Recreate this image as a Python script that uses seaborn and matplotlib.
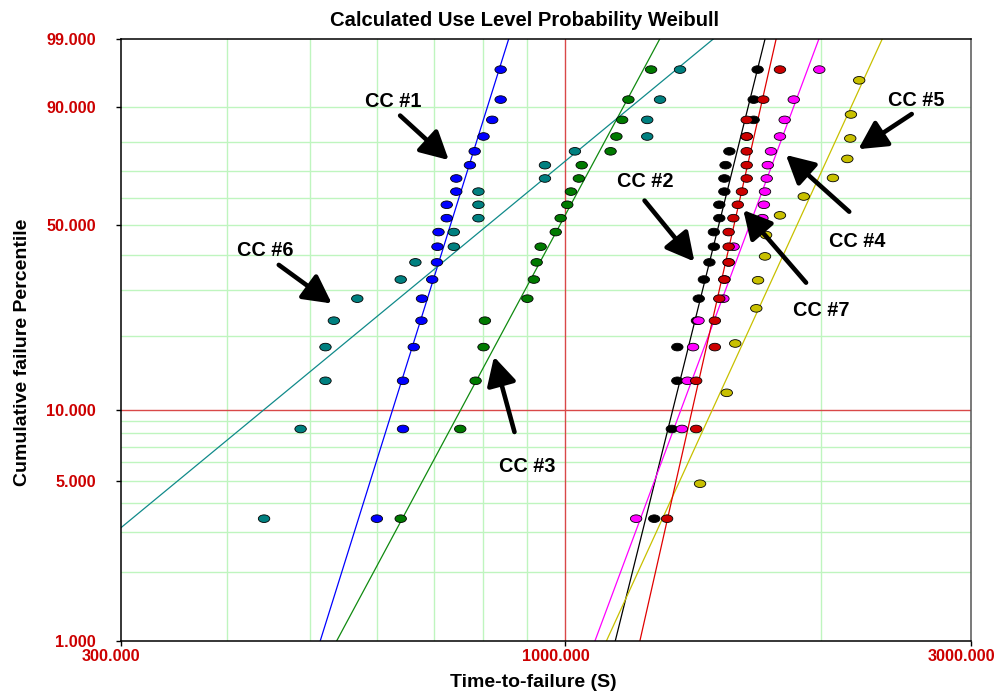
import numpy as np
import pandas as pd
import matplotlib
matplotlib.use("Agg")
import matplotlib.pyplot as plt
import matplotlib.path as mpath
import matplotlib.transforms as mtransforms
import seaborn as sns

# median ranks (%): 20 failures for most groups, 14 for CC #5
ranks_20 = [3.43, 8.33, 13.24, 18.14, 23.04, 27.94, 32.84, 37.75, 42.65, 47.55,
            52.45, 57.35, 62.25, 67.16, 72.06, 76.96, 81.86, 86.76, 91.67, 96.57]
ranks_14 = [4.86, 11.81, 18.75, 25.69, 32.64, 39.58, 46.53, 53.47, 60.42, 67.36,
            74.31, 81.25, 88.19, 95.14]

# time-to-failure (S) per group
cc1 = [600, 644, 644, 663, 677, 678, 697, 706, 707, 709,
       725, 725, 744, 744, 772, 782, 801, 820, 839, 839]
cc2 = [1272, 1334, 1354, 1354, 1428, 1435, 1455, 1477, 1495, 1495,
       1517, 1517, 1538, 1538, 1543, 1559, 1634, 1665, 1665, 1683]
cc3 = [640, 752, 784, 801, 804, 902, 918, 925, 935, 974,
       987, 1005, 1015, 1037, 1045, 1130, 1148, 1166, 1186, 1261]
cc4 = [1211, 1371, 1392, 1413, 1434, 1534, 1538, 1556, 1577, 1682,
       1705, 1712, 1717, 1725, 1730, 1745, 1788, 1811, 1856, 1989]
cc5 = [1440, 1548, 1584, 1677, 1685, 1717, 1722, 1788, 1907, 2064,
       2146, 2163, 2167, 2216]
cc6 = [442, 488, 522, 522, 534, 569, 640, 666, 739, 739,
       790, 790, 790, 946, 946, 1026, 1248, 1248, 1292, 1364]
cc7 = [1317, 1425, 1425, 1499, 1499, 1517, 1538, 1556, 1556, 1556,
       1576, 1595, 1613, 1634, 1634, 1634, 1634, 1634, 1709, 1788]

groups = ["CC #1", "CC #2", "CC #3", "CC #4", "CC #5", "CC #6", "CC #7"]
times = [cc1, cc2, cc3, cc4, cc5, cc6, cc7]
ranks = [ranks_20, ranks_20, ranks_20, ranks_20, ranks_14, ranks_20, ranks_20]

# fitted weibull lines (shape, scale)
beta = [12.0, 15.1, 7.0, 10.1, 8.2, 3.1, 16.6]
eta = [755, 1552, 1038, 1708, 1958, 912, 1614]

colors = ["#0000FF", "#000000", "#007A00", "#FF00FF", "#C8C000", "#008080", "#CC0000"]
line_colors = ["#0000FF", "#000000", "#108A10", "#FF00FF", "#C8C000", "#108A8A", "#E00000"]

# annotation text centre, arrow tail, arrow tip  (time, percent)
label_pos = [(627, 91.2), (1240, 66.2), (901, 5.79), (2203, 44.5), (2583, 91.5), (444, 41.4), (2000, 25.1)]
arrow_tail = [(639, 87.9), (1239, 58.9), (871, 8.09), (2157, 54.8), (2555, 88.3), (460, 37.0), (1919, 32.0)]
arrow_tip = [(729, 73.9), (1418, 38.0), (824, 16.6), (1817, 75.7), (2211, 77.7), (531, 26.8), (1619, 55.4)]

x_grid = [400, 500, 600, 700, 800, 900, 2000]
y_grid = [2, 3, 4, 5, 6, 7, 8, 9, 20, 30, 40, 50, 60, 70, 80, 90]

rows = []
for g, t, r in zip(groups, times, ranks):
    for ti, ri in zip(t, r):
        rows.append((g, ti, ri))
df = pd.DataFrame(rows, columns=["group", "time", "pct"])


def fwd(p):
    p = np.clip(np.asarray(p, dtype=float), 1e-6, 100 - 1e-6)
    return np.log(-np.log1p(-p / 100.0))


def inv(z):
    return -100.0 * np.expm1(-np.exp(np.asarray(z, dtype=float)))


sns.set_theme(style="white")
plt.rcParams["font.family"] = ["Liberation Sans", "DejaVu Sans"]

fig = plt.figure(figsize=(9.98, 6.96), dpi=100)
ax = fig.add_axes([121 / 998, 1 - 641 / 696, 850 / 998, 602 / 696])
ax.set_xscale("log")
ax.set_yscale("function", functions=(fwd, inv))
ax.set_xlim(300, 3000)
ax.set_ylim(1, 99)

for xv in x_grid:
    ax.axvline(xv, color="#BFF5BF", lw=1.0, zorder=0)
for yv in y_grid:
    ax.axhline(yv, color="#BFF5BF", lw=1.0, zorder=0)
ax.axvline(1000, color="#D94848", lw=1.0, zorder=0.5)
ax.axhline(10, color="#D94848", lw=1.0, zorder=0.5)

# fitted lines
F = np.array([0.2, 1.0, 5.0, 20.0, 50.0, 80.0, 95.0, 99.0, 99.9])
for b, e, c in zip(beta, eta, line_colors):
    t_line = e * (-np.log1p(-F / 100.0)) ** (1.0 / b)
    ax.plot(t_line, F, color=c, lw=0.9, zorder=2)

circle = mpath.Path.unit_circle()
ellipse = mpath.Path(circle.vertices * np.array([1.5, 1.0]), circle.codes)

sns.scatterplot(data=df, x="time", y="pct", hue="group", hue_order=groups,
                palette=dict(zip(groups, colors)), marker=ellipse, s=68,
                edgecolor="black", linewidth=0.6, legend=False, ax=ax, zorder=3)

for g, lp, tail, tip in zip(groups, label_pos, arrow_tail, arrow_tip):
    ax.annotate("", xy=tip, xytext=tail,
                arrowprops=dict(arrowstyle="-|>,head_length=0.85,head_width=0.45",
                                color="black", lw=3.3, mutation_scale=20,
                                shrinkA=0, shrinkB=0), zorder=4)
    ax.text(lp[0], lp[1], g, ha="center", va="center", fontsize=14.3,
            fontweight="bold", color="black", zorder=5)

ax.set_xticks([300, 1000, 3000])
ax.set_xticklabels(["300.000", "1000.000", "3000.000"])
ax.set_yticks([1, 5, 10, 50, 90, 99])
ax.set_yticklabels(["1.000", "5.000", "10.000", "50.000", "90.000", "99.000"])
ax.xaxis.set_minor_locator(matplotlib.ticker.NullLocator())
ax.yaxis.set_minor_locator(matplotlib.ticker.NullLocator())
ax.tick_params(axis="both", which="major", direction="out", length=3.6, width=1,
               color="black", labelcolor="#CC0000", labelsize=11.7)
ax.tick_params(axis="y", pad=14.4)
ax.tick_params(axis="x", pad=2)
ax.tick_params(left=True, bottom=True)
for lab in ax.get_xticklabels() + ax.get_yticklabels():
    lab.set_fontweight("bold")
shift = mtransforms.ScaledTranslation(-10 / 100, 0, fig.dpi_scale_trans)
for lab in ax.get_xticklabels():
    lab.set_transform(lab.get_transform() + shift)

for side in ["left", "bottom", "top"]:
    ax.spines[side].set_color("black")
    ax.spines[side].set_linewidth(1.1)
ax.spines["right"].set_color("#555555")
ax.spines["right"].set_linewidth(1.1)

ax.set_xlabel("Time-to-failure (S)", fontsize=14, fontweight="bold", color="black")
ax.xaxis.set_label_coords((533 - 121) / 850, -0.054)
ax.set_ylabel("Cumulative failure Percentile", fontsize=14, fontweight="bold", color="black")
ax.yaxis.set_label_coords((31 - 121) / 850, 0.48)
ax.set_title("Calculated Use Level Probability Weibull", fontsize=14.6,
             fontweight="bold", color="black", x=(524 - 121) / 850, y=1.0216, pad=0)

fig.savefig("out.png", dpi=100)
